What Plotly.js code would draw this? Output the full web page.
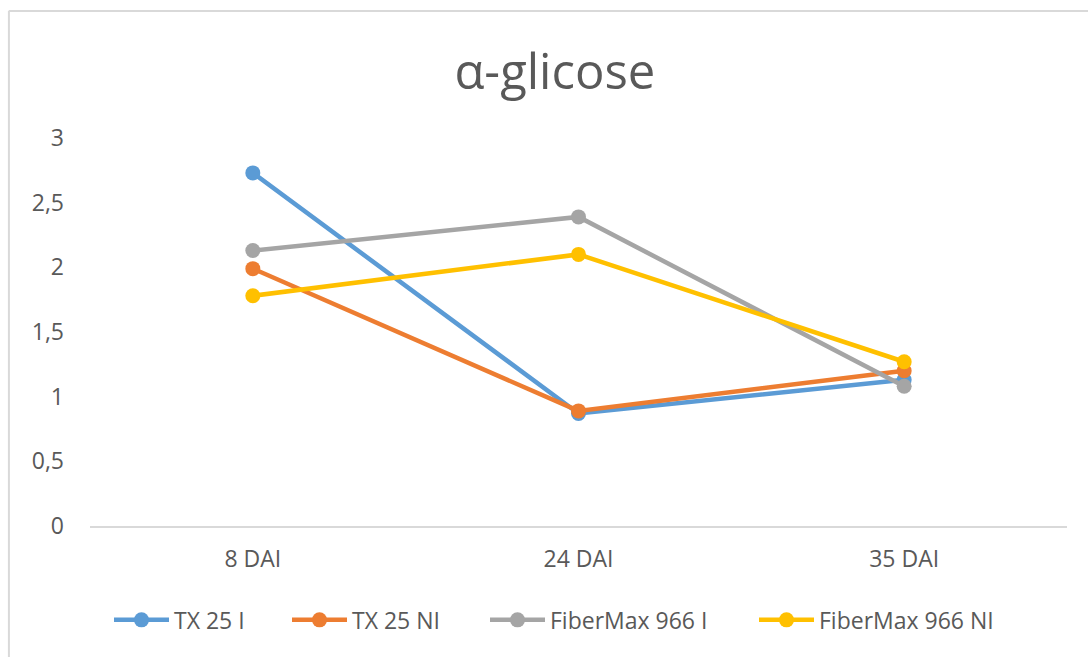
<!DOCTYPE html>
<html>
<head>
<meta charset="utf-8">
<script src="https://cdn.plot.ly/plotly-3.0.1.min.js"></script>
<style>html,body{margin:0;padding:0;background:#fff;}#chart{width:1088px;height:657px;}</style>
</head>
<body>
<div id="chart"></div>
<script>
const categories = ["8 DAI", "24 DAI", "35 DAI"];
const seriesNames = ["TX 25 I", "TX 25 NI", "FiberMax 966 I", "FiberMax 966 NI"];
const tx25I = [2.73, 0.87, 1.13];
const tx25NI = [1.99, 0.89, 1.2];
const fm966I = [2.13, 2.39, 1.08];
const fm966NI = [1.78, 2.1, 1.27];
const yTickVals = [0, 0.5, 1, 1.5, 2, 2.5, 3];
const yTickText = ["0", "0,5", "1", "1,5", "2", "2,5", "3"];
const colors = ["#5B9BD5", "#ED7D31", "#A5A5A5", "#FFC000"];

const allSeries = [tx25I, tx25NI, fm966I, fm966NI];
const font = "Open Sans, Lato, sans-serif";
const legendIds = ["legend", "legend2", "legend3", "legend4"];
const legendX = [112, 290, 488, 757];
const traces = allSeries.map((vals, i) => ({
  x: categories, y: vals, name: seriesNames[i], type: "scatter", mode: "lines+markers",
  line: {color: colors[i], width: 4.5}, marker: {color: colors[i], size: 15},
  legend: legendIds[i]
}));

const layout = {
  width: 1088, height: 657,
  paper_bgcolor: "#fff", plot_bgcolor: "#fff",
  margin: {l: 90, r: 21, t: 138, b: 131},
  title: {text: "α-glicose", x: 0.51, xanchor: "center", y: 0.89, yanchor: "middle",
    font: {family: font, size: 49, color: "#595959"}},
  xaxis: {type: "category", range: [-0.5, 2.5], showgrid: false, zeroline: false,
    showline: true, linecolor: "#D9D9D9", linewidth: 1.5, ticks: "",
    tickfont: {family: font, size: 23, color: "#595959"}, ticklabelstandoff: 12},
  yaxis: {range: [0, 3], tickvals: yTickVals, ticktext: yTickText, showgrid: false,
    zeroline: false, showline: false, ticks: "",
    tickfont: {family: font, size: 23, color: "#595959"}, ticklabelstandoff: 25},
  showlegend: true,
  shapes: [
    {type: "line", xref: "paper", yref: "paper", x0: -0.083, x1: -0.083, y0: -0.4, y1: 1.328, line: {color: "#D9D9D9", width: 2}},
    {type: "line", xref: "paper", yref: "paper", x0: -0.083, x1: 1.03, y0: 1.327, y1: 1.327, line: {color: "#D9D9D9", width: 2}}
  ]
};
legendIds.forEach((id, i) => {
  layout[id] = {orientation: "h", xref: "paper", x: (legendX[i] - 90 - 3) / 977, xanchor: "left",
    y: -0.242, yanchor: "middle", font: {family: font, size: 23, color: "#595959"},
    itemwidth: 55, bgcolor: "rgba(0,0,0,0)"};
});
Plotly.newPlot("chart", traces, layout, {displayModeBar: false, staticPlot: true});
</script>
</body>
</html>
